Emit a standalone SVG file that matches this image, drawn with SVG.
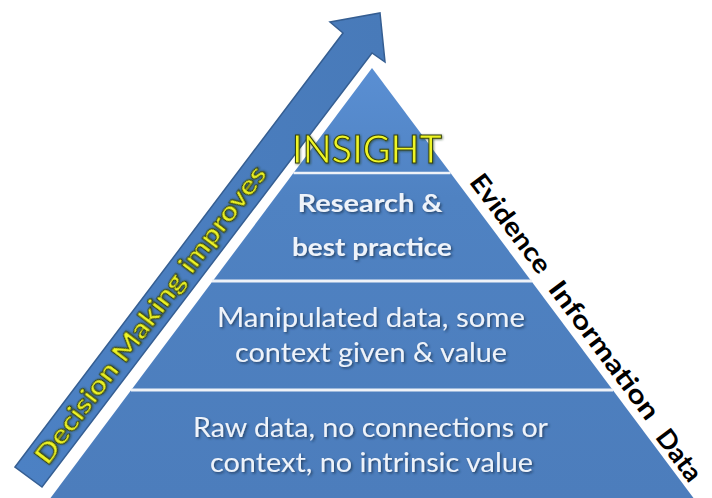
<svg xmlns="http://www.w3.org/2000/svg" width="712" height="498" viewBox="0 0 712 498">
  <defs>
    <linearGradient id="pyrGrad" x1="0" y1="68" x2="0" y2="498" gradientUnits="userSpaceOnUse">
      <stop offset="0" stop-color="#5a8fd3"/>
      <stop offset="0.3" stop-color="#4f82c2"/>
      <stop offset="1" stop-color="#4c7dbc"/>
    </linearGradient>
    <linearGradient id="arrowGrad" x1="0" y1="0" x2="1" y2="0">
      <stop offset="0" stop-color="#4c81c4"/>
      <stop offset="1" stop-color="#487ab9"/>
    </linearGradient>
    <filter id="shadow" x="-10%" y="-30%" width="120%" height="160%">
      <feDropShadow dx="1.5" dy="1.5" stdDeviation="0.8" flood-color="#1d3150" flood-opacity="0.75"/>
    </filter>
    <filter id="glow" x="-10%" y="-30%" width="120%" height="160%">
      <feDropShadow dx="0.8" dy="0.8" stdDeviation="1" flood-color="#20300a" flood-opacity="0.6"/>
    </filter>
  </defs>
  <style>
    .body { font-family: Lato, "Liberation Sans", sans-serif; fill: #eef3fa; filter: url(#shadow); }
    .bold { font-weight: bold; }
    .yellow { font-family: Lato, "Liberation Sans", sans-serif; fill: #eef525; stroke: #34420f; stroke-width: 1; filter: url(#glow); }
    .side { font-family: Lato, "Liberation Sans", sans-serif; font-weight: bold; font-size: 26px; fill: #000000; }
    .sep { stroke: #eef2f8; stroke-width: 3; }
  </style>
  <rect width="712" height="498" fill="#ffffff"/>

  <g id="pyramid">
    <polygon points="372,68 695,500 49,500" fill="url(#pyrGrad)"/>
  </g>

  <g id="connectors">
    <line class="sep" x1="293.5" y1="173" x2="450.5" y2="173" style="stroke-width:2.5"/>
    <line class="sep" x1="212" y1="281" x2="532" y2="281"/>
    <line class="sep" x1="131" y1="390" x2="613" y2="390"/>
  </g>

  <g id="evidence-layer">
    <text class="body bold" x="370" y="212" font-size="24" text-anchor="middle" textLength="145" lengthAdjust="spacingAndGlyphs">Research &amp;</text>
    <text class="body bold" x="372" y="256" font-size="24" text-anchor="middle" textLength="160" lengthAdjust="spacingAndGlyphs">best practice</text>
  </g>

  <g id="information-layer">
    <text class="body" x="371" y="327" font-size="26" text-anchor="middle" textLength="308" lengthAdjust="spacingAndGlyphs">Manipulated data, some</text>
    <text class="body" x="371" y="362" font-size="26" text-anchor="middle" textLength="272" lengthAdjust="spacingAndGlyphs">context given &amp; value</text>
  </g>

  <g id="data-layer">
    <text class="body" x="370.5" y="437" font-size="26" text-anchor="middle" textLength="355" lengthAdjust="spacingAndGlyphs">Raw data, no connections or</text>
    <text class="body" x="371.5" y="472" font-size="26" text-anchor="middle" textLength="323" lengthAdjust="spacingAndGlyphs">context, no intrinsic value</text>
  </g>

  <g id="arrow">
    <polygon points="15,467 343,33 330,22 380,13 385,62 372,53 42,487" fill="url(#arrowGrad)" stroke="#355e92" stroke-width="1.5" stroke-linejoin="miter"/>
    <text class="yellow bold" transform="translate(28.5,477) rotate(-53)" x="203" y="9" font-size="26" font-weight="bold" text-anchor="middle" textLength="366" lengthAdjust="spacingAndGlyphs">Decision Making improves</text>
  </g>

  <g id="insight">
    <text class="yellow" x="367" y="163" font-size="38" text-anchor="middle" textLength="150" lengthAdjust="spacingAndGlyphs">INSIGHT</text>
  </g>

  <g id="side-labels" transform="translate(372,68) rotate(53.2)">
    <text class="side" x="149" y="-9" textLength="117" lengthAdjust="spacingAndGlyphs">Evidence</text>
    <text class="side" x="282" y="-8" textLength="166" lengthAdjust="spacingAndGlyphs">Information</text>
    <text class="side" x="465" y="-5" textLength="58" lengthAdjust="spacingAndGlyphs">Data</text>
  </g>
</svg>
